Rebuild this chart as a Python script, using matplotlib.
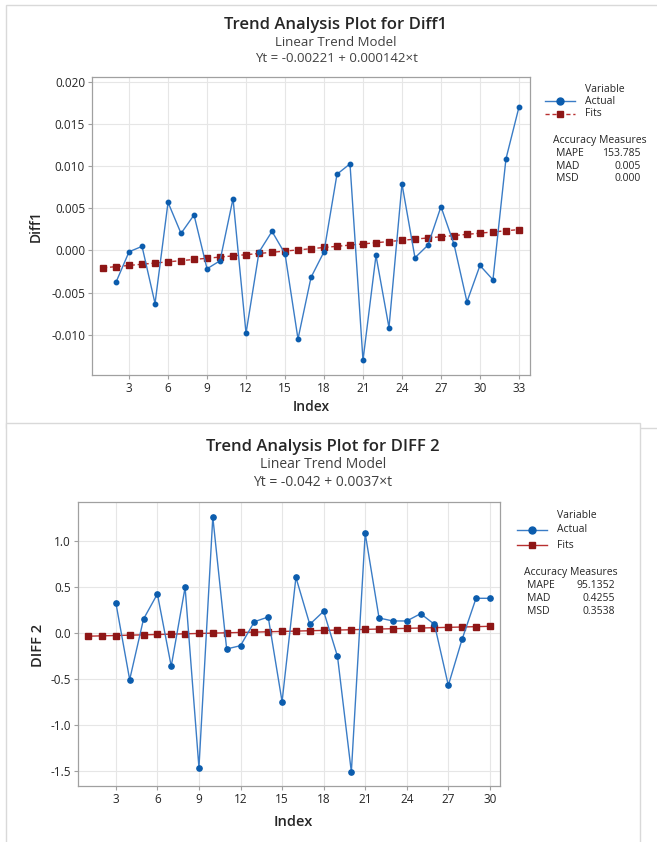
import matplotlib.pyplot as plt
from matplotlib.lines import Line2D
from matplotlib.patches import Rectangle
from matplotlib.ticker import FormatStrFormatter, MultipleLocator

plt.rcParams['font.family'] = ['Open Sans', 'DejaVu Sans']
plt.rcParams['axes.unicode_minus'] = False

W, H = 657, 842

# Diff1 series (first value missing -> starts at index 2)
diff1_index = list(range(2, 34))
diff1_actual = [-0.00377, -0.00016, 0.00048, -0.00631, 0.00571, 0.00202, 0.00421,
                -0.00218, -0.00123, 0.00615, -0.00984, -0.00020, 0.00226, -0.00040,
                -0.01052, -0.00321, -0.00016, 0.00905, 0.01028, -0.01306, -0.00060,
                -0.00917, 0.00790, -0.00087, 0.00063, 0.00520, 0.00075, -0.00611,
                -0.00179, -0.00349, 0.01087, 0.01702]
diff1_fit_index = list(range(1, 34))
diff1_fits = [-0.002068, -0.001926, -0.001784, -0.001642, -0.001500, -0.001358,
              -0.001216, -0.001074, -0.000932, -0.000790, -0.000648, -0.000506,
              -0.000364, -0.000222, -0.000080, 0.000062, 0.000204, 0.000346,
              0.000488, 0.000630, 0.000772, 0.000914, 0.001056, 0.001198,
              0.001340, 0.001482, 0.001624, 0.001766, 0.001908, 0.002050,
              0.002192, 0.002334, 0.002476]
diff1_acc = [('MAPE', '153.785'), ('MAD', '0.005'), ('MSD', '0.000')]

# DIFF 2 series (starts at index 3)
diff2_index = list(range(3, 31))
diff2_actual = [0.326, -0.510, 0.148, 0.420, -0.365, 0.492, -1.465, 1.255, -0.177,
                -0.141, 0.119, 0.170, -0.749, 0.600, 0.090, 0.232, -0.257, -1.512,
                1.078, 0.159, 0.127, 0.127, 0.206, 0.090, -0.572, -0.069, 0.373,
                0.373]
diff2_fit_index = list(range(1, 31))
diff2_fits = [-0.0383, -0.0346, -0.0309, -0.0272, -0.0235, -0.0198, -0.0161,
              -0.0124, -0.0087, -0.0050, -0.0013, 0.0024, 0.0061, 0.0098, 0.0135,
              0.0172, 0.0209, 0.0246, 0.0283, 0.0320, 0.0357, 0.0394, 0.0431,
              0.0468, 0.0505, 0.0542, 0.0579, 0.0616, 0.0653, 0.0690]
diff2_acc = [('MAPE', '95.1352'), ('MAD', '0.4255'), ('MSD', '0.3538')]

BLUE_LINE = '#3a7cc6'
BLUE_DOT = '#0b5cad'
RED_LINE = '#b83030'
RED_SQ = '#8e1616'
GRID = '#e6e6e6'
SPINE = '#a0a0a0'
TEXT = '#262626'
SUB = '#404040'


def fx(x):
    return x / W


def fy(y):
    return 1 - y / H


def box(fig, x0, y0, x1, y1, z):
    fig.add_artist(Rectangle((fx(x0), fy(y1)), fx(x1) - fx(x0), fy(y0) - fy(y1),
                             transform=fig.transFigure, fill=True, fc='white',
                             ec='#d9d9d9', lw=1.0, zorder=z))


def draw_panel(ax, idx, actual, fidx, fits, dashed, ms_dot, ms_sq):
    ax.plot(idx, actual, color=BLUE_LINE, lw=1.0, marker='o', ms=ms_dot,
            mfc=BLUE_DOT, mec=BLUE_DOT, zorder=3)
    ax.plot(fidx, fits, color=RED_LINE, lw=1.0,
            ls=(0, (3, 2)) if dashed else '-', marker='s', ms=ms_sq,
            mfc=RED_SQ, mec=RED_SQ, zorder=2)
    ax.grid(True, color=GRID, lw=0.8)
    ax.set_axisbelow(True)
    ax.patch.set_alpha(0)
    for s in ax.spines.values():
        s.set_color(SPINE)
        s.set_linewidth(0.9)
    ax.tick_params(direction='out', length=3, width=0.8, color=SPINE,
                   labelsize=8.5, labelcolor=TEXT, pad=2)
    ax.xaxis.set_major_locator(MultipleLocator(3))


def draw_legend(fig, x_line, y_var, y_act, y_fit, dashed, y_acc, acc, x_lab, x_val):
    x_txt = x_line + 40
    fig.text(fx(x_txt), fy(y_var), 'Variable', fontsize=7.5, color=TEXT, va='center')
    fig.add_artist(Line2D([fx(x_line), fx(x_line + 30)], [fy(y_act)] * 2,
                          transform=fig.transFigure, color=BLUE_LINE, lw=1.0))
    fig.add_artist(Line2D([fx(x_line + 15)], [fy(y_act)], transform=fig.transFigure,
                          marker='o', ms=5, mfc=BLUE_DOT, mec=BLUE_DOT, ls='none'))
    fig.text(fx(x_txt), fy(y_act), 'Actual', fontsize=7.5, color=TEXT, va='center')
    fig.add_artist(Line2D([fx(x_line), fx(x_line + 30)], [fy(y_fit)] * 2,
                          transform=fig.transFigure, color=RED_LINE, lw=1.0,
                          ls=(0, (3, 2)) if dashed else '-'))
    fig.add_artist(Line2D([fx(x_line + 15)], [fy(y_fit)], transform=fig.transFigure,
                          marker='s', ms=5, mfc=RED_SQ, mec=RED_SQ, ls='none'))
    fig.text(fx(x_txt), fy(y_fit), 'Fits', fontsize=7.5, color=TEXT, va='center')
    fig.text(fx(x_lab - 3), fy(y_acc), 'Accuracy Measures', fontsize=7.5, color=TEXT,
             va='center')
    for k, (name, val) in enumerate(acc):
        yy = y_acc + 13 + k * 12.5
        fig.text(fx(x_lab), fy(yy), name, fontsize=7.5, color=TEXT, va='center')
        fig.text(fx(x_val), fy(yy), val, fontsize=7.5, color=TEXT, va='center',
                 ha='right')


fig = plt.figure(figsize=(W / 100, H / 100), dpi=100)

# panel frames behind the axes (second panel sits over the first)
box(fig, 6, 5, 670, 428, -20)
box(fig, 6, 423, 640, 850, -10)

# --- Diff1 ---
ax1 = fig.add_axes([fx(92), fy(375), fx(530) - fx(92), fy(77) - fy(375)])
draw_panel(ax1, diff1_index, diff1_actual, diff1_fit_index, diff1_fits, True, 3.2, 3.8)
ax1.set_xlim(0.15, 33.85)
ax1.set_ylim(-0.0148, 0.0206)
ax1.yaxis.set_major_locator(MultipleLocator(0.005))
ax1.yaxis.set_major_formatter(FormatStrFormatter('%.3f'))

fig.text(fx(336), fy(25), 'Trend Analysis Plot for Diff1', fontsize=12, fontweight='semibold',
         color=TEXT, ha='center', va='center')
fig.text(fx(336), fy(43), 'Linear Trend Model', fontsize=9.5, color=SUB,
         ha='center', va='center')
fig.text(fx(336), fy(59), 'Yt = -0.00221 + 0.000142×t', fontsize=9.5, color=SUB,
         ha='center', va='center')
fig.text(fx(36), fy(226), 'Diff1', fontsize=10, fontweight='semibold', color=TEXT,
         rotation=90, ha='center', va='center')
fig.text(fx(311), fy(407), 'Index', fontsize=10, fontweight='semibold', color=TEXT,
         ha='center', va='center')
draw_legend(fig, 545, 89, 101, 114, True, 141, diff1_acc, 556, 641)

# --- DIFF 2 ---
ax2 = fig.add_axes([fx(78), fy(786), fx(500) - fx(78), fy(502) - fy(786)])
draw_panel(ax2, diff2_index, diff2_actual, diff2_fit_index, diff2_fits, False, 3.8, 4.0)
ax2.set_xlim(0.27, 30.73)
ax2.set_ylim(-1.664, 1.418)
ax2.yaxis.set_major_locator(MultipleLocator(0.5))
ax2.yaxis.set_major_formatter(FormatStrFormatter('%.1f'))

fig.text(fx(323), fy(447), 'Trend Analysis Plot for DIFF 2', fontsize=12,
         fontweight='semibold', color=TEXT, ha='center', va='center')
fig.text(fx(323), fy(465), 'Linear Trend Model', fontsize=10, color=SUB,
         ha='center', va='center')
fig.text(fx(323), fy(483), 'Yt = -0.042 + 0.0037×t', fontsize=10, color=SUB,
         ha='center', va='center')
fig.text(fx(38), fy(645), 'DIFF 2', fontsize=10.5, fontweight='semibold', color=TEXT,
         rotation=90, ha='center', va='center')
fig.text(fx(293), fy(822), 'Index', fontsize=10.5, fontweight='semibold', color=TEXT,
         ha='center', va='center')
draw_legend(fig, 517, 515, 530, 545, False, 573, diff2_acc, 527, 615)

fig.savefig('out.png', dpi=100)
